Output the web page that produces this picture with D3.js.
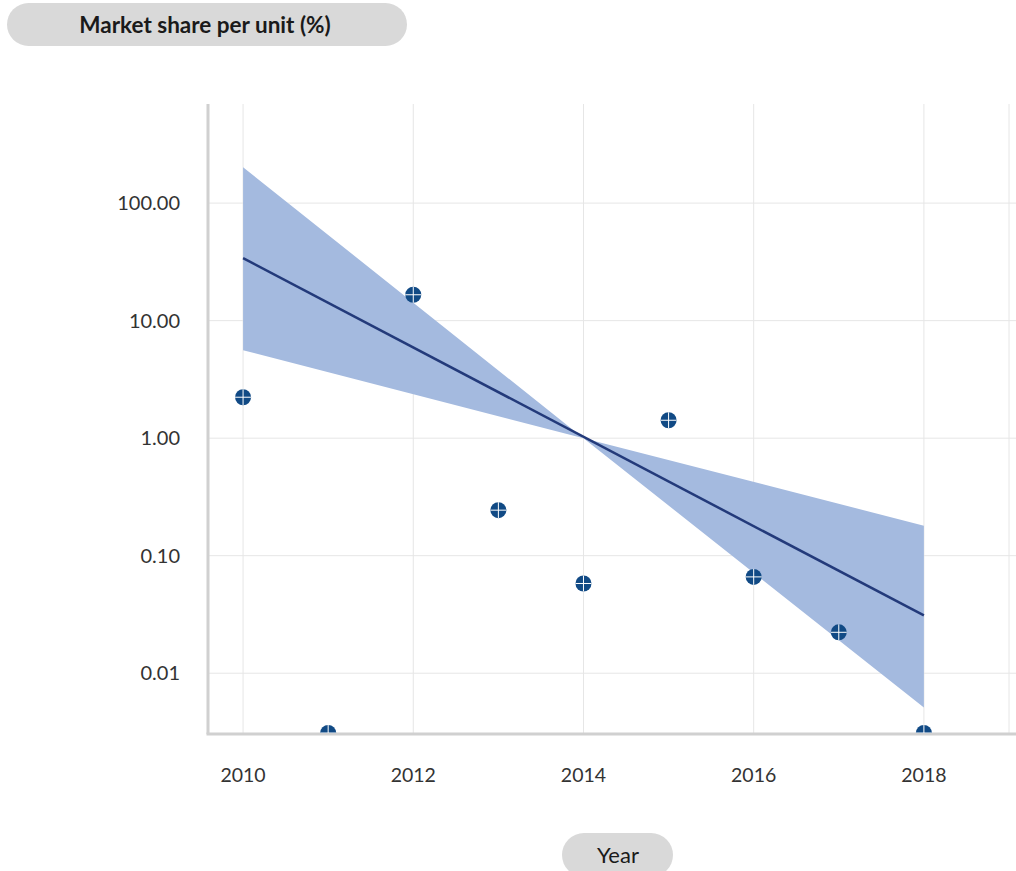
<!DOCTYPE html>
<html>
<head>
<meta charset="utf-8">
<script src="https://cdn.jsdelivr.net/npm/d3@7"></script>
<style>
  html, body { margin: 0; padding: 0; background: #fff; }
  svg { display: block; font-family: Lato, 'Open Sans', sans-serif; }
</style>
</head>
<body>
<svg id="chart" width="1016" height="871"></svg>
<script>
// observed values (log scale, % market share)
const years = [2010, 2011, 2012, 2013, 2014, 2015, 2016, 2017, 2018]
const shares = [2.23, 0.0031, 16.6, 0.244, 0.058, 1.42, 0.066, 0.0223, 0.0031]

// fitted trend and its band
const trendYears = [2010, 2018]
const trendValues = [34, 0.031]
const bandYears = [2010, 2014, 2018]
const bandUpper = [202, 1.0, 0.18]
const bandLower = [5.6, 1.0, 0.0051]

const xTicks = [2010, 2012, 2014, 2016, 2018]
const yTicks = [0.01, 0.1, 1, 10, 100]

const svg = d3.select('#chart')
const plotLeft = 208, plotRight = 1009, plotTop = 104, plotBottom = 733

const x = d3.scaleLinear().domain([2009.588, 2019]).range([plotLeft, plotRight])
const y = d3.scaleLog().domain([0.0031, 697]).range([plotBottom, plotTop])

svg.append('defs').append('clipPath').attr('id', 'plot-clip')
    .append('rect')
    .attr('x', plotLeft).attr('y', plotTop)
    .attr('width', 1016 - plotLeft).attr('height', plotBottom - plotTop)

// grid
const grid = svg.append('g')
grid.selectAll('.vgrid')
    .data(xTicks.concat([2019]))
    .join('line')
    .attr('class', 'vgrid')
    .attr('x1', d => x(d)).attr('x2', d => x(d))
    .attr('y1', plotTop).attr('y2', plotBottom)
    .attr('stroke', '#e6e6e6').attr('stroke-width', 1)
grid.selectAll('.hgrid')
    .data(yTicks)
    .join('line')
    .attr('class', 'hgrid')
    .attr('x1', plotLeft).attr('x2', 1016)
    .attr('y1', d => y(d)).attr('y2', d => y(d))
    .attr('stroke', '#e6e6e6').attr('stroke-width', 1)

const plot = svg.append('g').attr('clip-path', 'url(#plot-clip)')

const bandData = bandYears.map((yr, i) => ({ yr, lo: bandLower[i], hi: bandUpper[i] }))
plot.append('path')
    .datum(bandData)
    .attr('fill', '#a4badf')
    .attr('d', d3.area().x(d => x(d.yr)).y0(d => y(d.lo)).y1(d => y(d.hi)))

plot.append('path')
    .datum(trendYears.map((yr, i) => [yr, trendValues[i]]))
    .attr('fill', 'none')
    .attr('stroke', '#233a7a')
    .attr('stroke-width', 2.5)
    .attr('d', d3.line().x(d => x(d[0])).y(d => y(d[1])))

// axes lines (drawn under the points)
svg.append('line')
    .attr('x1', plotLeft).attr('x2', plotLeft).attr('y1', plotTop).attr('y2', plotBottom + 1)
    .attr('stroke', '#d0d0d0').attr('stroke-width', 3)
svg.append('line')
    .attr('x1', plotLeft - 1.5).attr('x2', 1016).attr('y1', plotBottom + 1).attr('y2', plotBottom + 1)
    .attr('stroke', '#d0d0d0').attr('stroke-width', 3)

const pts = svg.append('g').attr('clip-path', 'url(#plot-clip)')
    .selectAll('.pt')
    .data(years.map((yr, i) => [yr, shares[i]]))
    .join('g')
    .attr('class', 'pt')
    .attr('transform', d => `translate(${x(d[0])},${y(d[1])})`)
pts.append('circle').attr('r', 8).attr('fill', '#114a85')
pts.append('path')
    .attr('d', 'M-8,0H8M0,-8V8')
    .attr('stroke', '#fff').attr('stroke-width', 1)

// tick labels
svg.append('g').selectAll('text')
    .data(yTicks)
    .join('text')
    .attr('x', 180)
    .attr('y', d => y(d))
    .attr('dy', '0.36em')
    .attr('text-anchor', 'end')
    .attr('font-size', 20)
    .attr('fill', '#333')
    .text(d => d3.format('.2f')(d))

svg.append('g').selectAll('text')
    .data(xTicks)
    .join('text')
    .attr('x', d => x(d))
    .attr('y', 781.5)
    .attr('text-anchor', 'middle')
    .attr('font-size', 19.5)
    .attr('fill', '#333')
    .text(d => d)

// axis title pills
svg.append('rect')
    .attr('x', 7).attr('y', 3).attr('width', 400).attr('height', 43)
    .attr('rx', 21.5).attr('fill', '#d9d9d9')
svg.append('text')
    .attr('x', 205).attr('y', 25).attr('dy', '0.35em')
    .attr('text-anchor', 'middle')
    .attr('font-size', 22.5).attr('font-weight', 'bold').attr('fill', '#1a1a1a')
    .text('Market share per unit (%)')

svg.append('rect')
    .attr('x', 562).attr('y', 833).attr('width', 111).attr('height', 44)
    .attr('rx', 22).attr('fill', '#d9d9d9')
svg.append('text')
    .attr('x', 618).attr('y', 855).attr('dy', '0.35em')
    .attr('text-anchor', 'middle')
    .attr('font-size', 22).attr('fill', '#1a1a1a')
    .text('Year')
</script>
</body>
</html>
